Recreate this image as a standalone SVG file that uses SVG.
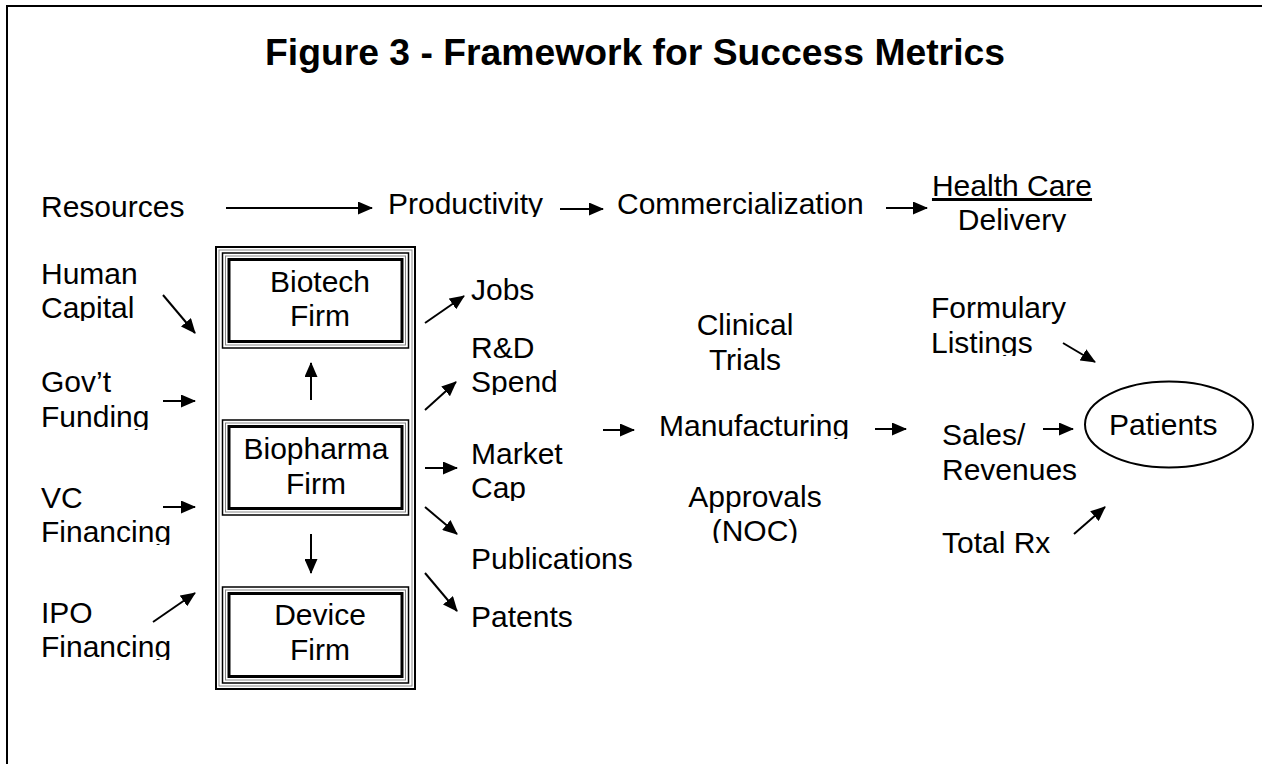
<svg xmlns="http://www.w3.org/2000/svg" width="1262" height="764" viewBox="0 0 1262 764">
<style>
.t{font-family:"Liberation Sans",Arial,sans-serif;font-size:30px;fill:#000}
.ttl{font-family:"Liberation Sans",Arial,sans-serif;font-size:37.3px;font-weight:bold;fill:#000}
.c{text-anchor:middle}
.conn line{stroke:#000;stroke-width:2;marker-end:url(#ah)}
.b1{fill:none;stroke:#000;stroke-width:1.5}
.b2{fill:none;stroke:#888;stroke-width:1}
.b3{fill:none;stroke:#000;stroke-width:3}
</style>
<defs>
<marker id="ah" markerUnits="userSpaceOnUse" markerWidth="15" markerHeight="13" viewBox="0 0 15 13" refX="14" refY="6.5" orient="auto">
<path d="M0,0 L15,6.5 L0,13 z" fill="#000"/>
</marker>
<clipPath id="k-prod"><rect x="0" y="180" width="1262" height="37"/></clipPath>
<clipPath id="k-deliv"><rect x="0" y="202" width="1262" height="30"/></clipPath>
<clipPath id="k-capital"><rect x="0" y="290" width="1262" height="31"/></clipPath>
<clipPath id="k-funding"><rect x="0" y="400" width="1262" height="30"/></clipPath>
<clipPath id="k-vcfin"><rect x="0" y="515" width="1262" height="30"/></clipPath>
<clipPath id="k-ipofin"><rect x="0" y="630" width="1262" height="30"/></clipPath>
<clipPath id="k-spend"><rect x="0" y="365" width="1262" height="30"/></clipPath>
<clipPath id="k-cap"><rect x="0" y="470" width="1262" height="31"/></clipPath>
<clipPath id="k-manuf"><rect x="0" y="405" width="1262" height="34"/></clipPath>
<clipPath id="k-noc"><rect x="0" y="512" width="1262" height="31"/></clipPath>
<clipPath id="k-list"><rect x="0" y="325" width="1262" height="31"/></clipPath>
</defs>
<rect width="1262" height="764" fill="#fff"/>
<rect id="frame" x="7" y="6" width="1270" height="780" fill="none" stroke="#000" stroke-width="2"/>
<text id="title" class="ttl c" x="635" y="65">Figure 3 - Framework for Success Metrics</text>

<g id="resources"><text class="t" x="41" y="217">Resources</text></g>
<g id="productivity"><text class="t" x="388" y="214" clip-path="url(#k-prod)">Productivity</text></g>
<g id="commercialization"><text class="t" x="617" y="214">Commercialization</text></g>
<g id="health-care-delivery">
<text class="t c" x="1012" y="196" text-decoration="underline">Health Care</text>
<text class="t c" x="1012" y="230" clip-path="url(#k-deliv)">Delivery</text>
</g>

<g id="human-capital"><text class="t" x="41" y="284">Human</text><text class="t" x="41" y="318" clip-path="url(#k-capital)">Capital</text></g>
<g id="govt-funding"><text class="t" x="41" y="392">Gov’t</text><text class="t" x="41" y="427" clip-path="url(#k-funding)">Funding</text></g>
<g id="vc-financing"><text class="t" x="41" y="508">VC</text><text class="t" x="41" y="542" clip-path="url(#k-vcfin)">Financing</text></g>
<g id="ipo-financing"><text class="t" x="41" y="623">IPO</text><text class="t" x="41" y="657" clip-path="url(#k-ipofin)">Financing</text></g>

<g id="firms-box">
<rect class="b1" x="216" y="247" width="199" height="442" style="stroke-width:2"/>
<rect class="b2" x="219" y="250" width="193" height="436"/>
</g>
<g id="biotech-firm">
<rect class="b1" x="222.5" y="253" width="186" height="95"/>
<rect class="b2" x="225.5" y="256" width="180" height="89"/>
<rect class="b3" x="229" y="259.5" width="173" height="82"/>
<text class="t c" x="320" y="292">Biotech</text>
<text class="t c" x="320" y="326">Firm</text>
</g>
<g id="biopharma-firm">
<rect class="b1" x="222.5" y="420" width="186" height="95"/>
<rect class="b2" x="225.5" y="423" width="180" height="89"/>
<rect class="b3" x="229" y="426.5" width="173" height="82"/>
<text class="t c" x="316" y="459">Biopharma</text>
<text class="t c" x="316" y="494">Firm</text>
</g>
<g id="device-firm">
<rect class="b1" x="222.5" y="587" width="186" height="96"/>
<rect class="b2" x="225.5" y="590" width="180" height="90"/>
<rect class="b3" x="229" y="593.5" width="173" height="83"/>
<text class="t c" x="320" y="625">Device</text>
<text class="t c" x="320" y="660">Firm</text>
</g>

<g id="jobs"><text class="t" x="471" y="300">Jobs</text></g>
<g id="rd-spend"><text class="t" x="471" y="358">R&amp;D</text><text class="t" x="471" y="392" clip-path="url(#k-spend)">Spend</text></g>
<g id="market-cap"><text class="t" x="471" y="464">Market</text><text class="t" x="471" y="498" clip-path="url(#k-cap)">Cap</text></g>
<g id="publications"><text class="t" x="471" y="569">Publications</text></g>
<g id="patents"><text class="t" x="471" y="627">Patents</text></g>

<g id="clinical-trials"><text class="t c" x="745" y="335">Clinical</text><text class="t c" x="745" y="370">Trials</text></g>
<g id="manufacturing"><text class="t" x="659" y="436" clip-path="url(#k-manuf)">Manufacturing</text></g>
<g id="approvals"><text class="t c" x="755" y="507">Approvals</text><text class="t c" x="755" y="541" clip-path="url(#k-noc)">(NOC)</text></g>

<g id="formulary-listings"><text class="t" x="931" y="318">Formulary</text><text class="t" x="931" y="353" clip-path="url(#k-list)">Listings</text></g>
<g id="sales-revenues"><text class="t" x="942" y="445">Sales/</text><text class="t" x="942" y="480">Revenues</text></g>
<g id="total-rx"><text class="t" x="942" y="553">Total Rx</text></g>
<g id="patients">
<ellipse cx="1169" cy="424.5" rx="84" ry="43" fill="none" stroke="#000" stroke-width="2"/>
<text class="t" x="1109" y="435">Patients</text>
</g>

<g id="connectors" class="conn">
<line x1="226" y1="208" x2="372" y2="208"/>
<line x1="560" y1="209" x2="603" y2="209"/>
<line x1="886" y1="208" x2="927" y2="208"/>
<line x1="163" y1="295" x2="195" y2="333"/>
<line x1="163" y1="401" x2="195" y2="401"/>
<line x1="163" y1="507" x2="195" y2="507"/>
<line x1="153" y1="622" x2="195" y2="593"/>
<line x1="311" y1="400" x2="311" y2="363"/>
<line x1="311" y1="534" x2="311" y2="573"/>
<line x1="425" y1="323" x2="464" y2="296"/>
<line x1="425" y1="410" x2="456" y2="382"/>
<line x1="425" y1="468" x2="457" y2="468"/>
<line x1="425" y1="507" x2="457" y2="534"/>
<line x1="425" y1="573" x2="457" y2="611"/>
<line x1="603" y1="430" x2="634" y2="430"/>
<line x1="875" y1="429" x2="906" y2="429"/>
<line x1="1043" y1="429" x2="1073" y2="429"/>
<line x1="1063" y1="343" x2="1095" y2="362"/>
<line x1="1074" y1="534" x2="1105" y2="507"/>
</g>
</svg>
